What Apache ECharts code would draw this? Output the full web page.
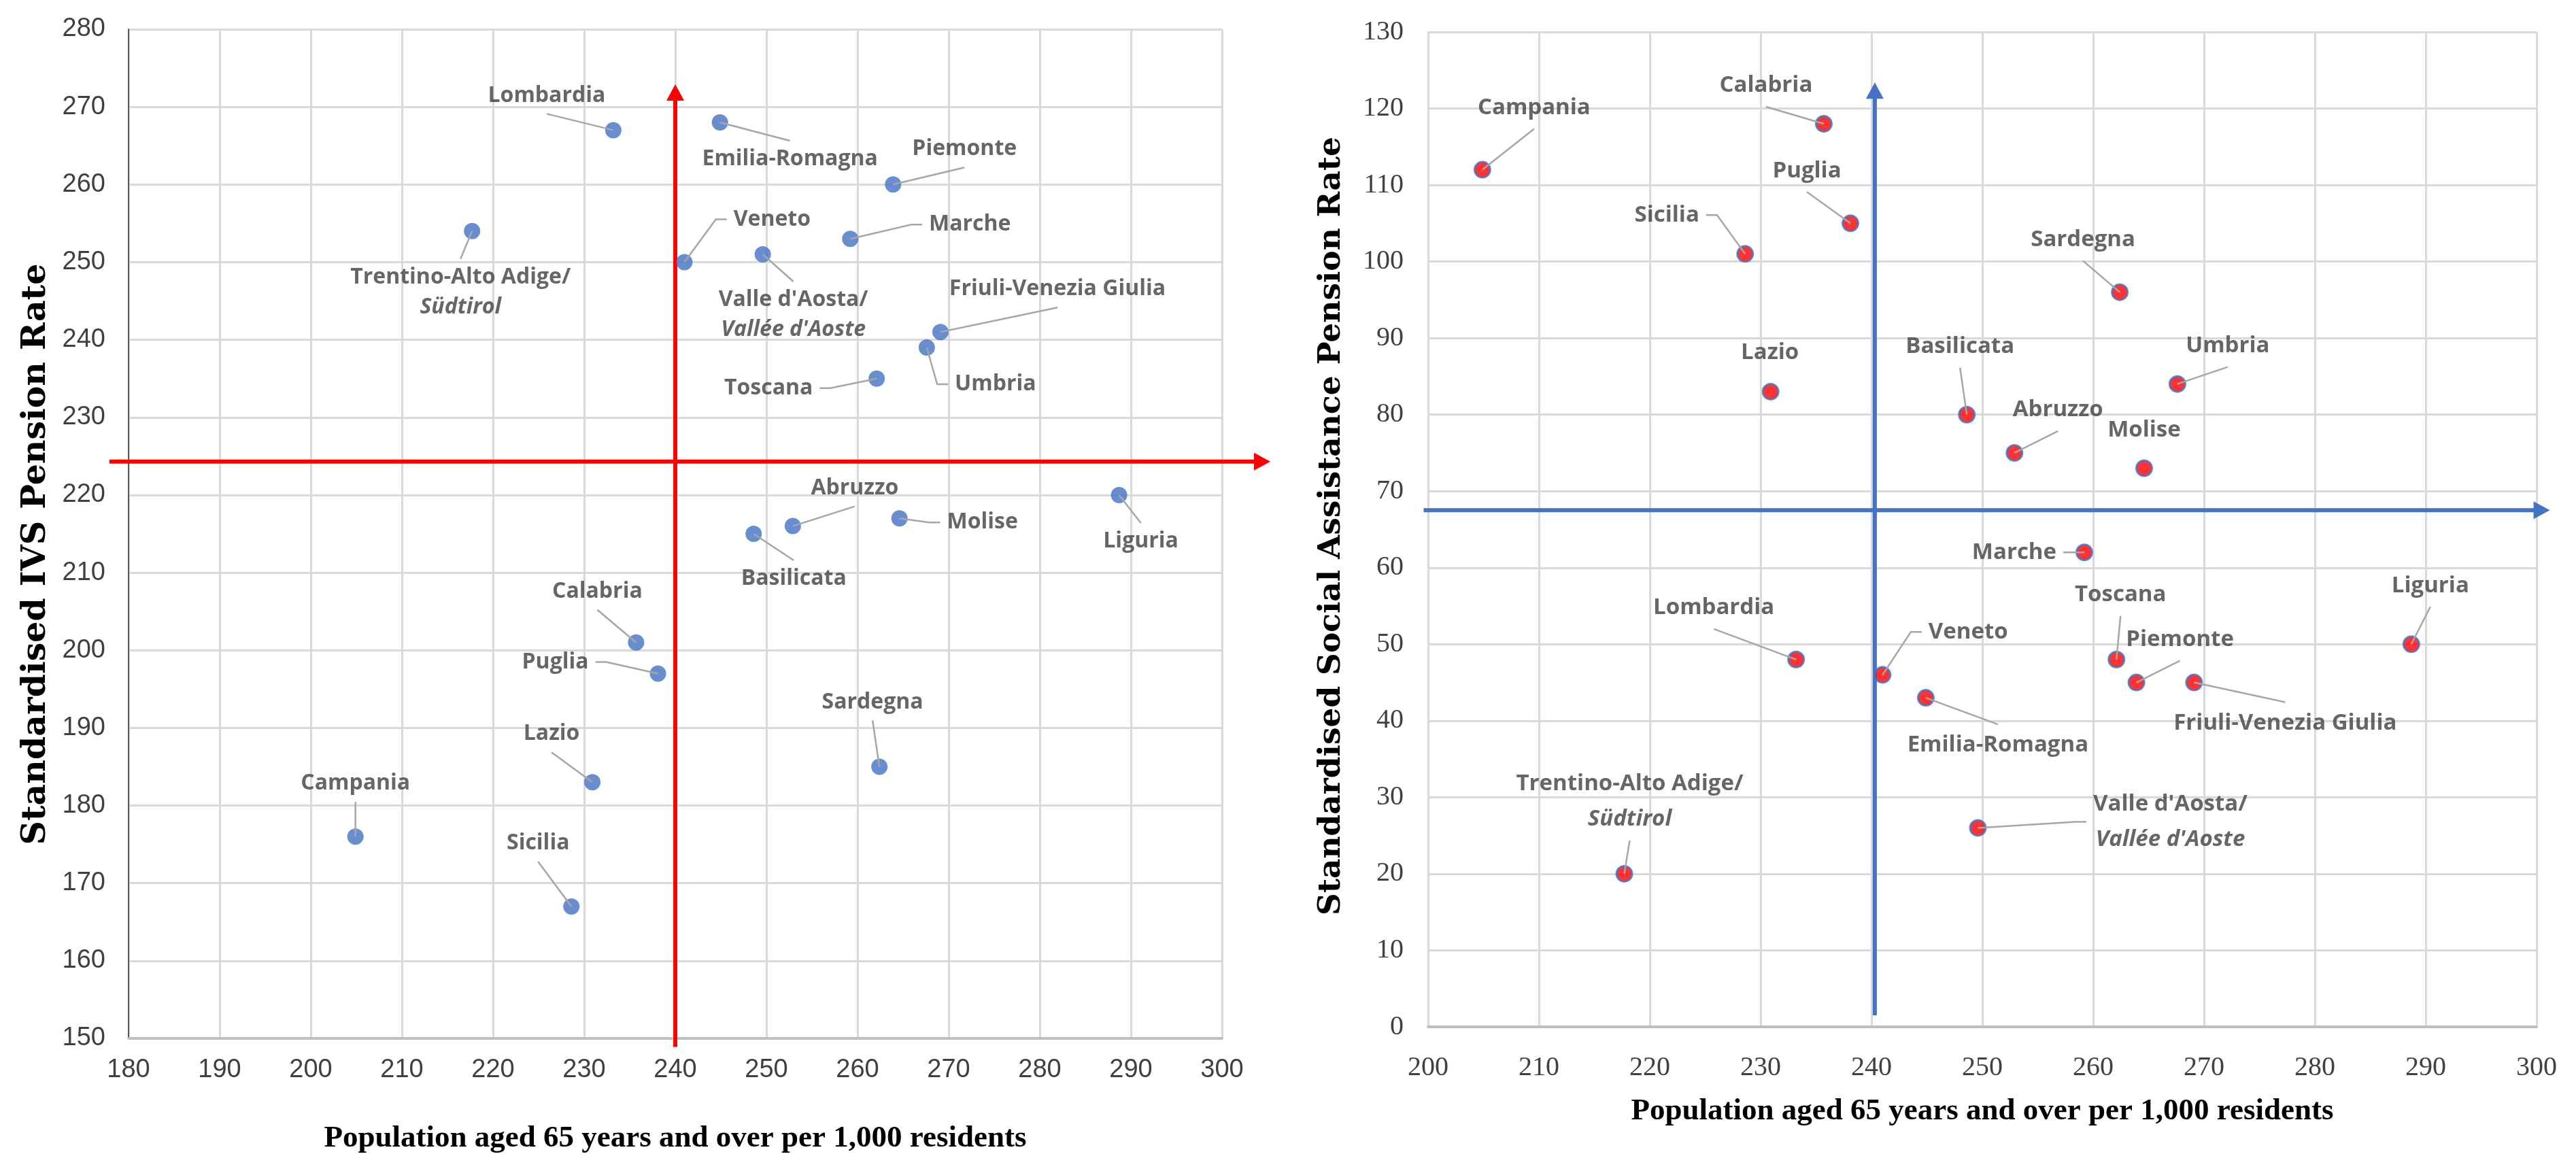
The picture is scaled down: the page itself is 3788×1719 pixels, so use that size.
<!DOCTYPE html>
<html>
<head>
<meta charset="utf-8">
<script src="https://cdn.jsdelivr.net/npm/echarts@6/dist/echarts.min.js"></script>
<style>html,body{margin:0;padding:0;background:#fff}#c{width:3788px;height:1719px}</style>
</head>
<body>
<div id="c"></div>
<script>
// ---------------- data ----------------
const regions = ['Piemonte', "Valle d'Aosta/Vallée d'Aoste", 'Lombardia', 'Trentino-Alto Adige/Südtirol', 'Veneto',
  'Friuli-Venezia Giulia', 'Liguria', 'Emilia-Romagna', 'Toscana', 'Umbria', 'Marche', 'Lazio', 'Abruzzo', 'Molise',
  'Campania', 'Puglia', 'Basilicata', 'Calabria', 'Sicilia', 'Sardegna'];
const elderlyPer1000 = [263.9, 249.6, 233.2, 217.7, 241.0, 269.1, 288.7, 244.9, 262.1, 267.6, 259.2, 230.9, 252.9, 264.6,
  204.9, 238.1, 248.6, 235.7, 228.6, 262.4];
const ivsPensionRate = [260, 251, 267, 254, 250, 241, 220, 268, 235, 239, 253, 183, 216, 217, 176, 197, 215, 201, 167, 185];
const socialAssistanceRate = [45, 26, 48, 20, 46, 45, 50, 43, 48, 84, 62, 83, 75, 73, 112, 105, 80, 118, 101, 96];

const ivsXRange = [180, 300];
const ivsYRange = [150, 280];
const saXRange = [200, 300];
const saYRange = [0, 130];
const tickStep = 10;

const xTitle = 'Population aged 65 years and over per 1,000 residents';
const ivsYTitle = 'Standardised IVS Pension Rate';
const saYTitle = 'Standardised Social Assistance Pension Rate';

// quadrant reference lines (value coordinates: start, arrow tip)
const ivsRefVertical = [[240, 148.9], [240, 272.9]];
const ivsRefHorizontal = [[177.9, 224.3], [305.3, 224.3]];
const saRefVertical = [[240.3, 1.5], [240.3, 123.4]];
const saRefHorizontal = [[199.6, 67.5], [301.2, 67.5]];

// ---------------- label placement: [dx, dy] pixel offset from marker, leader side ----------------
const labelOffsetsIVS = {
  'Lombardia': [-98, -51, 'B'], 'Trentino-Alto Adige/Südtirol': [-17, 90, 'T'], 'Emilia-Romagna': [103, 54, 'T'],
  'Piemonte': [105, -52, 'B'], 'Veneto': [129, -63, 'L'], 'Marche': [176, -21, 'L'],
  "Valle d'Aosta/Vallée d'Aoste": [45, 89, 'T'], 'Friuli-Venezia Giulia': [172, -63, 'B'], 'Umbria': [101, 54, 'L'],
  'Toscana': [-159, 14, 'R'], 'Calabria': [-57, -75, 'B'], 'Puglia': [-151, -17, 'R'], 'Lazio': [-60, -71, 'B'],
  'Campania': [0, -78, 'B'], 'Abruzzo': [91, -56, 'B'], 'Basilicata': [59, 66, 'T'], 'Molise': [122, 6, 'L'],
  'Liguria': [32, 68, 'T'], 'Sardegna': [-10, -95, 'B'], 'Sicilia': [-49, -93, 'B']
};
const labelOffsetsSA = {
  'Campania': [76, -91, 'B'], 'Calabria': [-85, -56, 'B'], 'Puglia': [-64, -77, 'B'], 'Sicilia': [-115, -57, 'R'],
  'Lazio': [-1, -57, ''], 'Sardegna': [-54, -77, 'B'], 'Umbria': [74, -56, 'B'], 'Basilicata': [-10, -100, 'B'],
  'Abruzzo': [64, -63, 'B'], 'Molise': [0, -56, ''], 'Marche': [-103, 0, 'R'], 'Liguria': [28, -86, 'B'],
  'Lombardia': [-121, -76, 'B'], 'Veneto': [126, -63, 'L'], 'Toscana': [6, -95, 'B'], 'Piemonte': [64, -63, 'B'],
  'Friuli-Venezia Giulia': [134, 60, 'T'], 'Emilia-Romagna': [106, 70, 'T'],
  'Trentino-Alto Adige/Südtirol': [8, -106, 'B'], "Valle d'Aosta/Vallée d'Aoste": [283, -9, 'L']
};

// ---------------- chart ----------------
const chart = echarts.init(document.getElementById('c'), null, { width: 3788, height: 1719 });
const leaderStore = { ivs: {}, sa: {} };

function labelText(p) {
  const parts = p.name.split('/');
  if (parts.length > 1) return '{n|' + parts[0] + '/}\n{it|' + parts[1] + '}';
  return p.name;
}
function makeLayout(offsets, store) {
  const elbowLen = 16, gap = 2;
  return function (p) {
    const o = offsets[regions[p.dataIndex]] || [0, 0, ''];
    const cx = p.rect.x + p.rect.width / 2, cy = p.rect.y + p.rect.height / 2;
    const lx = cx + o[0], ly = cy + o[1];
    const hw = p.labelRect.width / 2 + gap, hh = p.labelRect.height / 2 + gap;
    let end = null, elbow = null;
    if (o[2] === 'T') { end = [lx, ly - hh]; elbow = end; }
    else if (o[2] === 'B') { end = [lx, ly + hh]; elbow = end; }
    else if (o[2] === 'L') { end = [lx - hw, ly]; elbow = [end[0] - elbowLen, ly]; }
    else if (o[2] === 'R') { end = [lx + hw, ly]; elbow = [end[0] + elbowLen, ly]; }
    store[p.dataIndex] = end ? [[cx, cy], elbow, end] : null;
    return { x: lx, y: ly, align: 'center', verticalAlign: 'middle' };
  };
}
function labelStyle(size, lh) {
  const base = { fontFamily: 'Open Sans', fontWeight: 'bold', fontSize: size, color: '#404040', lineHeight: lh };
  return {
    show: true, formatter: labelText, padding: [3, 8], ...base,
    rich: { n: { ...base }, it: { ...base, fontStyle: 'italic' } }
  };
}
const splitLine = { show: true, lineStyle: { color: '#d9d9d9', width: 3 } };

const option = {
  animation: false,
  backgroundColor: '#ffffff',
  grid: [
    { left: 189, right: 1991, top: 43, bottom: 192, outerBoundsMode: 'none' },
    { left: 2100, right: 58, top: 47, bottom: 209, outerBoundsMode: 'none' }
  ],
  xAxis: [
    {
      gridIndex: 0, type: 'value', min: ivsXRange[0], max: ivsXRange[1], interval: tickStep,
      axisLine: { show: true, onZero: false, lineStyle: { color: '#bfbfbf', width: 4 } },
      axisTick: { show: false }, splitLine: splitLine,
      axisLabel: { margin: 28, fontFamily: 'Liberation Sans', fontSize: 38, color: '#404040' },
      name: xTitle, nameLocation: 'middle', nameGap: 125,
      nameTextStyle: { fontFamily: 'Liberation Serif', fontWeight: 'bold', fontSize: 45, color: '#000' }
    },
    {
      gridIndex: 1, type: 'value', min: saXRange[0], max: saXRange[1], interval: tickStep,
      axisLine: { show: true, onZero: false, lineStyle: { color: '#bfbfbf', width: 4 } },
      axisTick: { show: false }, splitLine: splitLine,
      axisLabel: { margin: 40, fontFamily: 'Liberation Serif', fontSize: 40, color: '#404040' },
      name: xTitle, nameLocation: 'middle', nameGap: 102,
      nameTextStyle: { fontFamily: 'Liberation Serif', fontWeight: 'bold', fontSize: 45, color: '#000' }
    }
  ],
  yAxis: [
    {
      gridIndex: 0, type: 'value', min: ivsYRange[0], max: ivsYRange[1], interval: tickStep,
      axisLine: { show: true, onZero: false, lineStyle: { color: '#595959', width: 2 } },
      axisTick: { show: false }, splitLine: splitLine,
      axisLabel: { margin: 34, fontFamily: 'Liberation Sans', fontSize: 38, color: '#404040' }
    },
    {
      gridIndex: 1, type: 'value', min: saYRange[0], max: saYRange[1], interval: tickStep,
      axisLine: { show: true, onZero: false, lineStyle: { color: '#d9d9d9', width: 3 } },
      axisTick: { show: false }, splitLine: splitLine,
      axisLabel: { margin: 36, fontFamily: 'Liberation Serif', fontSize: 40, color: '#404040' }
    }
  ],
  series: [
    {
      type: 'scatter', xAxisIndex: 0, yAxisIndex: 0, z: 3, symbolSize: 24,
      itemStyle: { color: '#4472c4' },
      data: regions.map((r, i) => ({ name: r, value: [elderlyPer1000[i], ivsPensionRate[i]] })),
      label: labelStyle(32, 44),
      labelLine: { show: false },
      labelLayout: makeLayout(labelOffsetsIVS, leaderStore.ivs)
    },
    {
      type: 'scatter', xAxisIndex: 1, yAxisIndex: 1, z: 3, symbolSize: 23,
      itemStyle: { color: '#ff0000', borderColor: '#4472c4', borderWidth: 3 },
      data: regions.map((r, i) => ({ name: r, value: [elderlyPer1000[i], socialAssistanceRate[i]] })),
      label: labelStyle(33, 52),
      labelLine: { show: false },
      labelLayout: makeLayout(labelOffsetsSA, leaderStore.sa)
    }
  ]
};
chart.setOption(option);

function toPx(idx, pt) { return chart.convertToPixel({ xAxisIndex: idx, yAxisIndex: idx }, pt); }

// quadrant arrows, placed through the axes' own scales
function arrow(idx, pts, color) {
  const a = toPx(idx, pts[0]);
  const b = toPx(idx, pts[1]);
  const dx = b[0] - a[0], dy = b[1] - a[1];
  const len = Math.sqrt(dx * dx + dy * dy);
  const ux = dx / len, uy = dy / len;
  const headL = 24, headW = 13;
  const base = [b[0] - ux * headL, b[1] - uy * headL];
  return [
    { type: 'line', z: 2, silent: true,
      shape: { x1: a[0], y1: a[1], x2: base[0] + ux * 2, y2: base[1] + uy * 2 },
      style: { stroke: color, lineWidth: 6 } },
    { type: 'polygon', z: 2, silent: true,
      shape: { points: [b, [base[0] - uy * headW, base[1] + ux * headW], [base[0] + uy * headW, base[1] - ux * headW]] },
      style: { fill: color } }
  ];
}
// leader lines from each marker to its label (positions captured from the label layout pass)
function leaders(store) {
  const out = [];
  Object.keys(store).forEach(k => {
    if (store[k]) out.push({ type: 'polyline', z: 4, silent: true, shape: { points: store[k] },
      style: { stroke: '#a6a6a6', lineWidth: 2.5, fill: null } });
  });
  return out;
}
// rotated y-axis titles positioned relative to each grid's left edge
function yTitle(idx, xr, yr, text, size, offX, offY) {
  const bottom = toPx(idx, [xr[0], yr[0]]);
  const top = toPx(idx, [xr[0], yr[1]]);
  return {
    type: 'text', silent: true, z: 5,
    x: bottom[0] - offX, y: (bottom[1] + top[1]) / 2 + offY, rotation: Math.PI / 2,
    style: { text: text, fontFamily: 'DejaVu Serif', fontWeight: 'bold', fontSize: size, fill: '#000',
      align: 'center', verticalAlign: 'middle' }
  };
}
chart.setOption({
  graphic: [].concat(
    arrow(0, ivsRefVertical, '#ff0000'),
    arrow(0, ivsRefHorizontal, '#ff0000'),
    arrow(1, saRefVertical, '#4472c4'),
    arrow(1, saRefHorizontal, '#4472c4'),
    leaders(leaderStore.ivs),
    leaders(leaderStore.sa),
    [yTitle(0, ivsXRange, ivsYRange, ivsYTitle, 49, 136, 30),
     yTitle(1, saXRange, saYRange, saYTitle, 45.5, 142, -5)]
  )
});
</script>
</body>
</html>
